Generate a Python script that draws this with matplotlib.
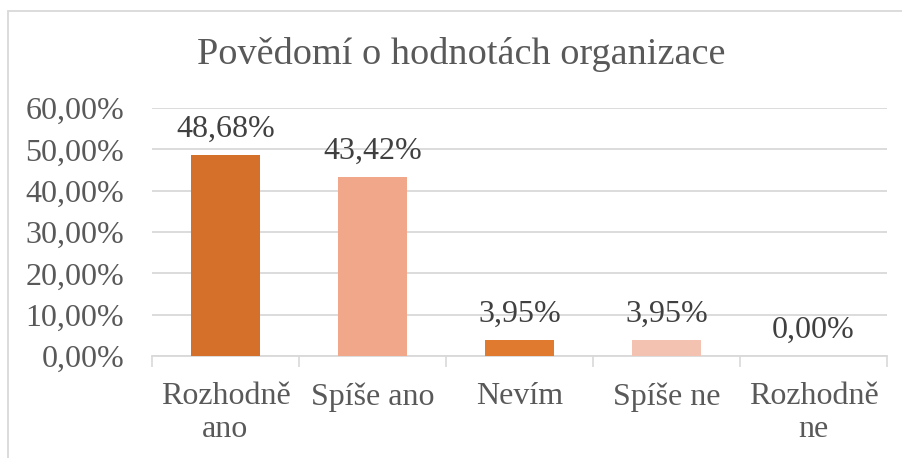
import matplotlib
matplotlib.use("Agg")
import matplotlib.pyplot as plt
import matplotlib.patches as patches

categories = ["Rozhodně\nano", "Spíše ano", "Nevím", "Spíše ne", "Rozhodně\nne"]
values = [0.4868, 0.4342, 0.0395, 0.0395, 0.0]
bar_colors = ["#D4702A", "#F1A88A", "#E07A2E", "#F4C2B0", "#F4C2B0"]

plt.rcParams["font.family"] = ["Liberation Serif", "DejaVu Serif"]
text_color = "#595959"
grid_color = "#D9D9D9"

fig = plt.figure(figsize=(9.03, 4.58), dpi=100)
ax = fig.add_axes([152 / 903, 1 - 356 / 458, 735 / 903, 248 / 458])

x = range(len(categories))
ax.bar(x, values, width=0.47, color=bar_colors, zorder=3)

for i, v in enumerate(values):
    label = f"{v * 100:.2f}%".replace(".", ",")
    ax.annotate(label, (i, v), xytext=(0, 8), textcoords="offset points",
                ha="center", va="bottom", fontsize=23, color="#404040")

ax.set_xlim(-0.5, len(categories) - 0.5)
ax.set_ylim(0, 0.6)
ax.set_yticks([i / 10 for i in range(7)])
ax.set_yticklabels([f"{i * 10:.2f}%".replace(".", ",") for i in range(7)])
ax.set_xticks(list(x))
ax.set_xticklabels(categories)
ax.set_xticks([i - 0.5 for i in range(len(categories) + 1)], minor=True)

ax.tick_params(axis="y", length=0, pad=20, labelsize=23, labelcolor=text_color)
ax.tick_params(axis="x", which="major", length=0, pad=19, labelsize=23, labelcolor=text_color)
ax.tick_params(axis="x", which="minor", length=8, width=1.2, color=grid_color, direction="out")
for lbl in ax.get_xticklabels():
    lbl.set_linespacing(1.15)

ax.yaxis.grid(True, color=grid_color, linewidth=1.3, zorder=0)
ax.set_axisbelow(True)
for side in ["top", "right", "left"]:
    ax.spines[side].set_visible(False)
ax.spines["bottom"].set_color(grid_color)
ax.spines["bottom"].set_linewidth(1.3)

fig.text(461 / 903, 1 - 55 / 458, "Povědomí o hodnotách organizace",
         ha="center", va="center", fontsize=27.5, color=text_color)

# chart frame (only left and top edges show in the crop)
fig.patches.append(patches.Rectangle((8 / 903, -0.1), 1.2, 1 - 11 / 458 + 0.1,
                                     transform=fig.transFigure, fill=False,
                                     edgecolor=grid_color, linewidth=1.3))

fig.savefig("out.png", dpi=100)
